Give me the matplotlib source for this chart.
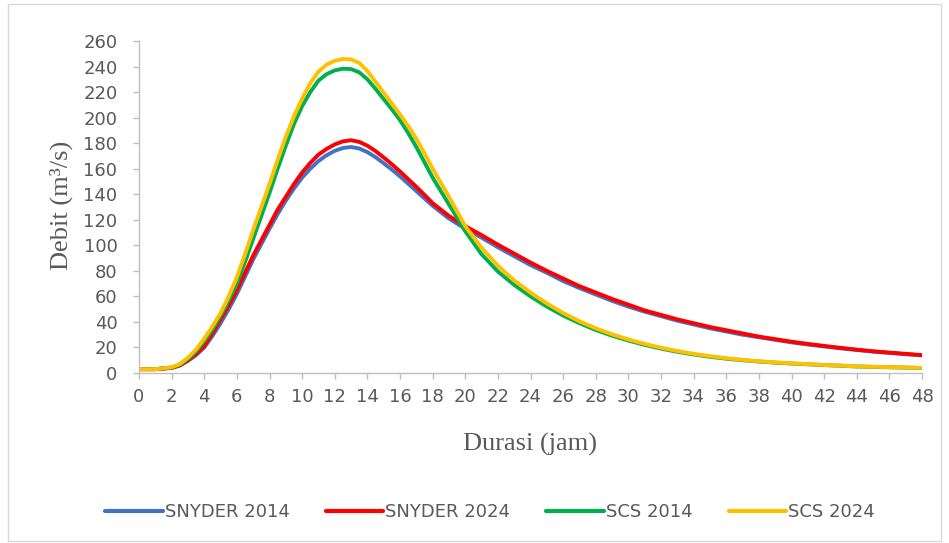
import matplotlib.pyplot as plt
from matplotlib.patches import Rectangle

# Data (half-hour steps from 2 h to 18 h, hourly elsewhere)
hours = [0, 1, 2, 2.5, 3, 3.5, 4, 4.5, 5, 5.5, 6, 6.5, 7, 7.5, 8, 8.5, 9, 9.5, 10,
         10.5, 11, 11.5, 12, 12.5, 13, 13.5, 14, 14.5, 15, 15.5, 16, 16.5, 17, 17.5, 18,
         19, 20, 21, 22, 23, 24, 25, 26, 27, 28, 29, 30, 31, 32, 33, 34, 35, 36,
         37, 38, 39, 40, 41, 42, 43, 44, 45, 46, 47, 48]

snyder_2014 = [3, 3, 4, 5.8, 9.5, 14, 20, 29, 39, 50, 62, 75.5, 89, 101, 113, 124.5, 135,
               144.5, 153, 160, 166, 170.5, 174, 176.2, 177, 175.8, 173, 169, 164.3,
               159.3, 154, 148.3, 142.5, 136.7, 131,
               121, 113, 106, 98.5, 91.5, 84.5, 78.5, 72, 66.5, 61.5, 56.5, 52, 48,
               44.5, 41, 38, 35, 32.5, 30, 28, 26, 24, 22.3, 20.8, 19.3, 18, 16.8,
               15.7, 14.7, 13.8]
snyder_2024 = [3, 3, 4, 6, 10, 15, 21, 31, 42, 53, 65, 78.5, 92, 104, 116, 128, 138,
               148, 157, 164.5, 171, 175.5, 179, 181.4, 182.3, 181, 178, 173.8, 168.8,
               163.5, 157.8, 151.8, 145.8, 139.5, 133,
               123, 115, 108, 100.5, 93.5, 86.5, 80, 74, 68, 63, 58, 53.5, 49, 45.5,
               42, 39, 36, 33.5, 31, 28.5, 26.5, 24.5, 22.8, 21.2, 19.7, 18.3, 17, 16,
               15, 14]
scs_2014 = [3, 3, 4.3, 6.5, 11, 17, 25, 34, 45, 57, 70, 87, 105, 123, 141, 160, 178,
            195, 209, 220, 229, 234, 237, 238.3, 238, 235.5, 230, 222.5, 214.5, 206.5,
            198, 188, 177, 165, 153,
            132, 111, 93, 79.5, 69, 60, 52, 45, 39, 33.7, 29.2, 25.4, 22, 19.1, 16.6,
            14.5, 12.7, 11.2, 10, 9, 8.1, 7.4, 6.8, 6.2, 5.7, 5.1, 4.8, 4.5, 4.2, 3.9]
scs_2024 = [3, 3, 4.5, 7, 12, 18.5, 27, 36.5, 47, 60, 75, 93, 112, 130, 148, 167, 185,
            201, 215, 227, 236, 241.5, 244.5, 245.9, 245.6, 242.8, 236.5, 228, 219.5,
            211, 202.5, 193.5, 183.5, 172, 160,
            138, 115, 98, 84, 72.5, 63, 54.5, 47, 40.5, 35, 30.3, 26.3, 22.8, 19.8,
            17.2, 15, 13.2, 11.6, 10.3, 9.2, 8.3, 7.6, 7, 6.3, 5.8, 5.2, 4.9, 4.6,
            4.3, 4.0]

series = [
    ('SNYDER 2014', snyder_2014, '#4472C4'),
    ('SNYDER 2024', snyder_2024, '#FF0000'),
    ('SCS 2014', scs_2014, '#00B050'),
    ('SCS 2024', scs_2024, '#FFC000'),
]

W, H = 949, 543
fig = plt.figure(figsize=(W / 100, H / 100), dpi=100)
ax = fig.add_axes([139 / W, 1 - 373 / H, (922 - 139) / W, (373 - 41) / H])

for name, vals, col in series:
    ax.plot(hours, vals, color=col, lw=2.8, label=name,
            solid_capstyle='round', solid_joinstyle='round')

ax.set_xlim(0, 48)
ax.set_ylim(0, 260)
ax.set_xticks(range(0, 49, 2))
ax.set_yticks(range(0, 261, 20))

for s in ['top', 'right']:
    ax.spines[s].set_visible(False)
for s in ['left', 'bottom']:
    ax.spines[s].set_color('#BFBFBF')
    ax.spines[s].set_linewidth(1)
ax.tick_params(axis='both', colors='#BFBFBF', labelcolor='#595959', labelsize=13,
               width=1)
ax.tick_params(axis='y', length=4.5, pad=11)
ax.tick_params(axis='x', length=4, pad=7)

fig.text(61 / W, 1 - 205 / H, 'Debit (m³/s)', rotation=90, ha='center', va='center',
         family='Liberation Serif', fontsize=19, color='#595959')
fig.text(530 / W, 1 - 444 / H, 'Durasi (jam)', ha='center', va='center',
         family='Liberation Serif', fontsize=19, color='#595959')

leg = fig.legend(loc='center', bbox_to_anchor=(490 / W, 1 - 512 / H), ncol=4,
                 frameon=False, fontsize=13, handlelength=3.2, handletextpad=0.1,
                 columnspacing=2.0, labelcolor='#595959')
for line in leg.get_lines():
    line.set_linewidth(3)

fig.patches.append(Rectangle((8 / W, 2 / H), (941 - 8) / W, (537) / H,
                             transform=fig.transFigure, fill=False,
                             ec='#D9D9D9', lw=1))

plt.savefig('out.png', dpi=100)
plt.close()
